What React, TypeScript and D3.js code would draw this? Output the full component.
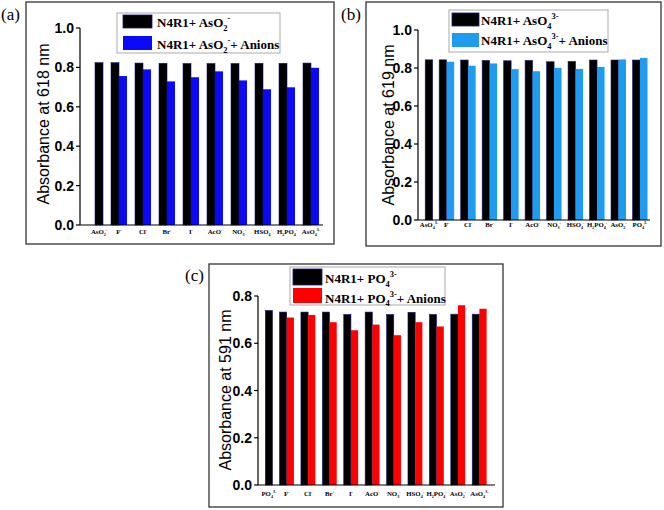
import React from "react";
import * as d3 from "d3";

// ---------- DATA ----------
const catsA = ["AsO_{2}^{-}", "F^{-}", "Cl^{-}", "Br^{-}", "I^{-}", "AcO^{-}", "NO_{3}^{-}", "HSO_{4}^{-}", "H_{2}PO_{4}^{-}", "AsO_{4}^{3-}"];
const baseA = [0.824, 0.824, 0.822, 0.821, 0.820, 0.820, 0.820, 0.821, 0.821, 0.822];
const anionA: (number | null)[] = [null, 0.756, 0.790, 0.729, 0.750, 0.780, 0.734, 0.689, 0.699, 0.798];

const catsB = ["AsO_{4}^{3-}", "F^{-}", "Cl^{-}", "Br^{-}", "I^{-}", "AcO^{-}", "NO_{3}^{-}", "HSO_{4}^{-}", "H_{2}PO_{4}^{-}", "AsO_{2}^{-}", "PO_{4}^{3-}"];
const baseB = [0.843, 0.843, 0.842, 0.840, 0.838, 0.840, 0.833, 0.835, 0.842, 0.842, 0.842];
const anionB: (number | null)[] = [null, 0.833, 0.812, 0.824, 0.794, 0.783, 0.801, 0.795, 0.806, 0.845, 0.853];

const catsC = ["PO_{4}^{3-}", "F^{-}", "Cl^{-}", "Br^{-}", "I^{-}", "AcO^{-}", "NO_{3}^{-}", "HSO_{4}^{-}", "H_{2}PO_{4}^{-}", "AsO_{2}^{-}", "AsO_{4}^{3-}"];
const baseC = [0.739, 0.732, 0.732, 0.732, 0.722, 0.732, 0.722, 0.731, 0.722, 0.723, 0.723];
const anionC: (number | null)[] = [null, 0.709, 0.720, 0.689, 0.655, 0.679, 0.634, 0.689, 0.671, 0.761, 0.746];

const ticksA = [0, 0.2, 0.4, 0.6, 0.8, 1.0];
const ticksB = [0, 0.2, 0.4, 0.6, 0.8, 1.0];
const ticksC = [0, 0.2, 0.4, 0.6, 0.8];

const legendA = ["N4R1+ AsO_{2}^{-}", "N4R1+ AsO_{2}^{-}+ Anions"];
const legendB = ["N4R1+ AsO_{4}^{3-}", "N4R1+ AsO_{4}^{3-}+ Anions"];
const legendC = ["N4R1+ PO_{4}^{3-}", "N4R1+ PO_{4}^{3-}+ Anions"];

// ---------- helpers ----------
type Seg = { t: string; k: "n" | "sub" | "sup" };
function parse(s: string): Seg[] {
  const re = /([_^])\{([^}]*)\}|([^_^]+)/g;
  const out: Seg[] = [];
  let m: RegExpExecArray | null;
  while ((m = re.exec(s))) {
    if (m[3]) out.push({ t: m[3], k: "n" });
    else out.push({ t: m[2], k: m[1] === "_" ? "sub" : "sup" });
  }
  return out;
}

const SERIF = "'Liberation Serif', 'Times New Roman', serif";
const SANS = "'Liberation Sans', Arial, sans-serif";

function Rich({ text, x, y, size, anchor = "start", small = 0.65 }: any) {
  const segs = parse(text);
  let cur = 0;
  return (
    <text x={x} y={y} fontSize={size} fontFamily={SERIF} fontWeight="bold" textAnchor={anchor} fill="#000">
      {segs.map((s, i) => {
        const target = s.k === "sub" ? size * 0.28 : s.k === "sup" ? -size * 0.45 : 0;
        const dy = target - cur;
        cur = target;
        return (
          <tspan key={i} dy={dy} fontSize={s.k === "n" ? size : size * small}>
            {s.t}
          </tspan>
        );
      })}
    </text>
  );
}

type PanelCfg = {
  tag: string;
  tagX: number;
  tagY: number;
  frame: [number, number, number, number];
  axisX: number;
  axisXEnd: number;
  yRange: [number, number];
  yMax: number;
  centers: [number, number];
  barW: number;
  cats: string[];
  base: number[];
  anion: (number | null)[];
  ticks: number[];
  color: string;
  title: string;
  titleX: number;
  titleY: number;
  legend: string[];
  legBox: [number, number, number, number];
  swX: number;
  swW: number;
  sw1: [number, number];
  sw2: [number, number];
  textX: number;
  base1: number;
  base2: number;
  labelY: number;
};

function Panel({ c }: { c: PanelCfg }) {
  const y = d3.scaleLinear().domain([0, c.yMax]).range(c.yRange);
  const x = d3.scalePoint<string>().domain(c.cats).range(c.centers);
  const [fx0, fy0, fx1, fy1] = c.frame;
  const y0 = y(0);
  const w = c.barW;
  const navy = "#1a1a7a";
  return (
    <g>
      <rect x={fx0} y={fy0} width={fx1 - fx0} height={fy1 - fy0} fill="none" stroke="#333" strokeWidth={1.3} />
      <text x={c.tagX} y={c.tagY} fontSize={17} fontFamily={SERIF} fill="#000">
        {c.tag}
      </text>
      {c.cats.map((cat, i) => {
        const cx = x(cat) as number;
        const b = c.base[i];
        const a = c.anion[i];
        const lone = a == null;
        const bx = lone ? cx : cx - w;
        return (
          <g key={cat + i}>
            <rect x={bx} y={y(b)} width={w} height={y0 - y(b)} fill="#000" stroke={navy} strokeWidth={0.6} />
            {!lone && (
              <rect x={cx} y={y(a as number)} width={w} height={y0 - y(a as number)} fill={c.color} />
            )}
            <Rich text={cat} x={lone ? cx + w / 2 : cx} y={c.labelY} size={6.8} anchor="middle" small={0.6} />
          </g>
        );
      })}
      <line x1={c.axisX} x2={c.axisX} y1={y(c.yMax)} y2={y0} stroke="#000" strokeWidth={1.2} />
      <line x1={c.axisX} x2={c.axisXEnd} y1={y0} y2={y0} stroke="#000" strokeWidth={1.2} />
      {c.ticks.map((t) => (
        <g key={t}>
          <line x1={c.axisX - 4} x2={c.axisX} y1={y(t)} y2={y(t)} stroke="#000" strokeWidth={1.2} />
          <text
            x={c.axisX - 6}
            y={y(t)}
            dy="0.36em"
            textAnchor="end"
            fontSize={14}
            fontWeight="bold"
            fontFamily={SANS}
            fill="#000"
          >
            {d3.format(".1f")(t)}
          </text>
        </g>
      ))}
      <text
        transform={`translate(${c.titleX},${c.titleY}) rotate(-90)`}
        textAnchor="middle"
        dy="0.35em"
        fontSize={16}
        fontFamily={SANS}
        fill="#000"
      >
        {c.title}
      </text>
      <rect
        x={c.legBox[0]}
        y={c.legBox[1]}
        width={c.legBox[2] - c.legBox[0]}
        height={c.legBox[3] - c.legBox[1]}
        fill="#fff"
        stroke="#aaa"
        strokeWidth={1}
      />
      <rect x={c.swX} y={c.sw1[0]} width={c.swW} height={c.sw1[1] - c.sw1[0]} fill="#000" stroke={navy} strokeWidth={0.8} />
      <rect x={c.swX} y={c.sw2[0]} width={c.swW} height={c.sw2[1] - c.sw2[0]} fill={c.color} />
      <Rich text={c.legend[0]} x={c.textX} y={c.base1} size={13} />
      <Rich text={c.legend[1]} x={c.textX} y={c.base2} size={13} />
    </g>
  );
}

const panels: PanelCfg[] = [
  {
    tag: "(a)", tagX: 1, tagY: 20,
    frame: [26, 2, 334, 244],
    axisX: 80, axisXEnd: 323,
    yRange: [225, 28], yMax: 1.0,
    centers: [95, 311], barW: 8,
    cats: catsA, base: baseA, anion: anionA, ticks: ticksA,
    color: "#0a0af8",
    title: "Absorbance at 618 nm", titleX: 43, titleY: 124,
    legend: legendA, legBox: [117, 13, 280, 53],
    swX: 123, swW: 29, sw1: [15, 28], sw2: [36, 50],
    textX: 157, base1: 27, base2: 49,
    labelY: 234,
  },
  {
    tag: "(b)", tagX: 341, tagY: 20,
    frame: [366, 2, 661, 246],
    axisX: 418, axisXEnd: 650,
    yRange: [220, 30], yMax: 1.0,
    centers: [425.2, 640], barW: 7.5,
    cats: catsB, base: baseB, anion: anionB, ticks: ticksB,
    color: "#1f9bf0",
    title: "Absorbance at 619 nm", titleX: 388, titleY: 125,
    legend: legendB, legBox: [449, 10, 608, 52],
    swX: 452, swW: 27, sw1: [13, 26], sw2: [33, 47],
    textX: 481, base1: 25, base2: 45,
    labelY: 227,
  },
  {
    tag: "(c)", tagX: 185, tagY: 281,
    frame: [209, 264, 503, 507],
    axisX: 258, axisXEnd: 495,
    yRange: [485, 296], yMax: 0.8,
    centers: [265.3, 479.4], barW: 7.2,
    cats: catsC, base: baseC, anion: anionC, ticks: ticksC,
    color: "#ff0000",
    title: "Absorbance at 591 nm", titleX: 225, titleY: 390,
    legend: legendC, legBox: [290, 267, 445, 305],
    swX: 293, swW: 29, sw1: [269, 285], sw2: [288, 303],
    textX: 325, base1: 283, base2: 302.5,
    labelY: 496,
  },
];

export default function App() {
  return (
    <svg width={664} height={510} style={{ position: "absolute", left: 0, top: 0, background: "#fff" }}>
      <rect x={0} y={0} width={664} height={510} fill="#fff" />
      {panels.map((p) => (
        <Panel key={p.tag} c={p} />
      ))}
    </svg>
  );
}
